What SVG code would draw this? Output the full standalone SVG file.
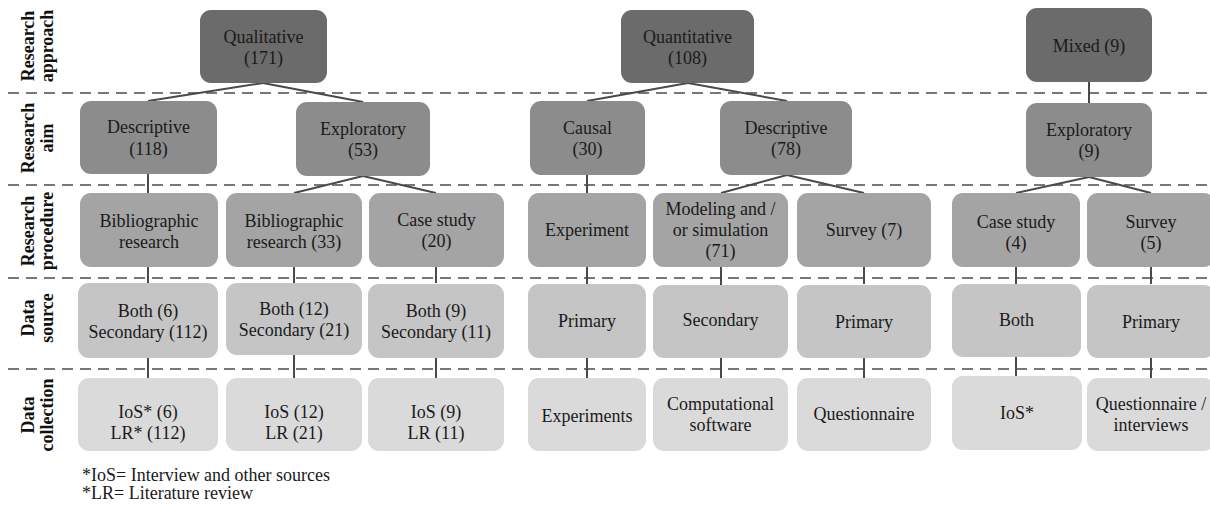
<svg xmlns="http://www.w3.org/2000/svg" width="1210" height="507" viewBox="0 0 1210 507">
<style>
text{font-family:"Liberation Serif","Times New Roman",serif;font-size:18px;fill:#1a1a1a;text-anchor:middle}
.lab{font-weight:bold;fill:#111}
.foot{text-anchor:start;font-size:18px}
.r1{fill:#6b6b6b}.r2{fill:#8c8c8c}.r3{fill:#a4a4a4}.r4{fill:#c5c5c5}.r5{fill:#dadada}
.dash{stroke:#777;stroke-width:2;stroke-dasharray:11 7;fill:none}
.con line{stroke:#4a4a4a;stroke-width:2}
</style>
<g id="bands">
<line class="dash" x1="8" y1="93" x2="1210" y2="93"/>
<line class="dash" x1="8" y1="185" x2="1210" y2="185"/>
<line class="dash" x1="8" y1="278" x2="1210" y2="278"/>
<line class="dash" x1="8" y1="369" x2="1210" y2="369"/>
</g>
<g id="labels">
<text class="lab" transform="translate(34,46) rotate(-90)">Research</text>
<text class="lab" transform="translate(53,46) rotate(-90)">approach</text>
<text class="lab" transform="translate(34,138) rotate(-90)">Research</text>
<text class="lab" transform="translate(53,138) rotate(-90)">aim</text>
<text class="lab" transform="translate(34,231) rotate(-90)">Research</text>
<text class="lab" transform="translate(53,231) rotate(-90)">procedure</text>
<text class="lab" transform="translate(34,318) rotate(-90)">Data</text>
<text class="lab" transform="translate(53,318) rotate(-90)">source</text>
<text class="lab" transform="translate(34,415) rotate(-90)">Data</text>
<text class="lab" transform="translate(53,415) rotate(-90)">collection</text>
</g>
<g id="connectors" class="con">
<line x1="263" y1="83" x2="148" y2="101"/>
<line x1="263" y1="83" x2="363" y2="102"/>
<line x1="688" y1="83" x2="587" y2="101"/>
<line x1="688" y1="83" x2="787" y2="101"/>
<line x1="1089" y1="82" x2="1089" y2="103"/>
<line x1="148" y1="174" x2="148" y2="193"/>
<line x1="363" y1="176" x2="294" y2="193"/>
<line x1="363" y1="176" x2="436" y2="193"/>
<line x1="587" y1="175" x2="587" y2="193"/>
<line x1="787" y1="175" x2="721" y2="193"/>
<line x1="787" y1="175" x2="864" y2="193"/>
<line x1="1089" y1="177" x2="1016" y2="193"/>
<line x1="1089" y1="177" x2="1151" y2="193"/>
<line x1="148" y1="267" x2="148" y2="283"/>
<line x1="294" y1="267" x2="294" y2="283"/>
<line x1="436" y1="267" x2="436" y2="283"/>
<line x1="587" y1="267" x2="587" y2="284"/>
<line x1="721" y1="267" x2="721" y2="285"/>
<line x1="864" y1="267" x2="864" y2="284"/>
<line x1="1016" y1="267" x2="1016" y2="284"/>
<line x1="1151" y1="267" x2="1151" y2="284"/>
<line x1="148" y1="358" x2="148" y2="378"/>
<line x1="294" y1="355" x2="294" y2="378"/>
<line x1="436" y1="358" x2="436" y2="378"/>
<line x1="587" y1="358" x2="587" y2="378"/>
<line x1="721" y1="358" x2="721" y2="378"/>
<line x1="864" y1="358" x2="864" y2="378"/>
<line x1="1016" y1="357" x2="1016" y2="376"/>
<line x1="1151" y1="358" x2="1151" y2="378"/>
</g>
<g id="qualitative"><rect class="r1" x="200" y="10" width="127" height="73" rx="11"/><text x="263.5" y="43">Qualitative</text><text x="263.5" y="64">(171)</text></g>
<g id="quantitative"><rect class="r1" x="621" y="10" width="133" height="73" rx="11"/><text x="687.5" y="43">Quantitative</text><text x="687.5" y="64">(108)</text></g>
<g id="mixed"><rect class="r1" x="1026" y="8" width="126" height="74" rx="11"/><text x="1089" y="52">Mixed (9)</text></g>

<g id="descriptive118"><rect class="r2" x="80" y="101" width="137" height="73" rx="11"/><text x="148.5" y="133">Descriptive</text><text x="148.5" y="155">(118)</text></g>
<g id="exploratory53"><rect class="r2" x="296" y="102" width="134" height="74" rx="11"/><text x="363" y="135">Exploratory</text><text x="363" y="156">(53)</text></g>
<g id="causal30"><rect class="r2" x="530" y="101" width="115" height="74" rx="11"/><text x="587.5" y="134">Causal</text><text x="587.5" y="155">(30)</text></g>
<g id="descriptive78"><rect class="r2" x="720" y="101" width="132" height="74" rx="11"/><text x="786" y="134">Descriptive</text><text x="786" y="155">(78)</text></g>
<g id="exploratory9"><rect class="r2" x="1026" y="103" width="126" height="74" rx="11"/><text x="1089" y="136">Exploratory</text><text x="1089" y="157">(9)</text></g>

<g id="bib"><rect class="r3" x="80" y="193" width="138" height="74" rx="11"/><text x="149" y="227">Bibliographic</text><text x="149" y="248">research</text></g>
<g id="bib33"><rect class="r3" x="226" y="193" width="136" height="74" rx="11"/><text x="294" y="227">Bibliographic</text><text x="294" y="248">research (33)</text></g>
<g id="case20"><rect class="r3" x="369" y="193" width="135" height="74" rx="11"/><text x="436.5" y="226">Case study</text><text x="436.5" y="247">(20)</text></g>
<g id="experiment"><rect class="r3" x="528" y="193" width="118" height="74" rx="11"/><text x="587" y="236">Experiment</text></g>
<g id="modeling"><rect class="r3" x="653" y="193" width="135" height="74" rx="11"/><text x="720.5" y="215">Modeling and /</text><text x="720.5" y="236">or simulation</text><text x="720.5" y="257">(71)</text></g>
<g id="survey7"><rect class="r3" x="797" y="193" width="134" height="74" rx="11"/><text x="864" y="236">Survey (7)</text></g>
<g id="case4"><rect class="r3" x="952" y="193" width="128" height="74" rx="11"/><text x="1016" y="228">Case study</text><text x="1016" y="249">(4)</text></g>
<g id="survey5"><rect class="r3" x="1087" y="193" width="128" height="74" rx="11"/><text x="1151" y="228">Survey</text><text x="1151" y="249">(5)</text></g>

<g id="src1"><rect class="r4" x="78" y="283" width="140" height="75" rx="11"/><text x="148" y="317">Both (6)</text><text x="148" y="338">Secondary (112)</text></g>
<g id="src2"><rect class="r4" x="226" y="283" width="136" height="72" rx="11"/><text x="294" y="315">Both (12)</text><text x="294" y="336">Secondary (21)</text></g>
<g id="src3"><rect class="r4" x="368" y="284" width="136" height="74" rx="11"/><text x="436" y="317">Both (9)</text><text x="436" y="338">Secondary (11)</text></g>
<g id="src4"><rect class="r4" x="528" y="284" width="118" height="74" rx="11"/><text x="587" y="327">Primary</text></g>
<g id="src5"><rect class="r4" x="653" y="285" width="135" height="73" rx="11"/><text x="720.5" y="326">Secondary</text></g>
<g id="src6"><rect class="r4" x="797" y="285" width="134" height="73" rx="11"/><text x="864" y="328">Primary</text></g>
<g id="src7"><rect class="r4" x="952" y="284" width="129" height="73" rx="11"/><text x="1016.5" y="326">Both</text></g>
<g id="src8"><rect class="r4" x="1087" y="285" width="128" height="73" rx="11"/><text x="1151" y="328">Primary</text></g>

<g id="col1"><rect class="r5" x="78" y="378" width="140" height="73" rx="11"/><text x="148" y="418">IoS* (6)</text><text x="148" y="439">LR* (112)</text></g>
<g id="col2"><rect class="r5" x="226" y="378" width="136" height="73" rx="11"/><text x="294" y="418">IoS (12)</text><text x="294" y="439">LR (21)</text></g>
<g id="col3"><rect class="r5" x="368" y="378" width="136" height="73" rx="11"/><text x="436" y="418">IoS (9)</text><text x="436" y="439">LR (11)</text></g>
<g id="col4"><rect class="r5" x="528" y="378" width="118" height="73" rx="11"/><text x="587" y="422">Experiments</text></g>
<g id="col5"><rect class="r5" x="653" y="378" width="135" height="73" rx="11"/><text x="720.5" y="410">Computational</text><text x="720.5" y="431">software</text></g>
<g id="col6"><rect class="r5" x="797" y="378" width="134" height="73" rx="11"/><text x="864" y="420">Questionnaire</text></g>
<g id="col7"><rect class="r5" x="952" y="376" width="130" height="74" rx="11"/><text x="1017" y="419">IoS*</text></g>
<g id="col8"><rect class="r5" x="1087" y="378" width="128" height="73" rx="11"/><text x="1151" y="410">Questionnaire /</text><text x="1151" y="431">interviews</text></g>

<g id="footnote">
<text class="foot" x="82" y="481">*IoS= Interview and other sources</text>
<text class="foot" x="82" y="499">*LR= Literature review</text>
</g>
</svg>
